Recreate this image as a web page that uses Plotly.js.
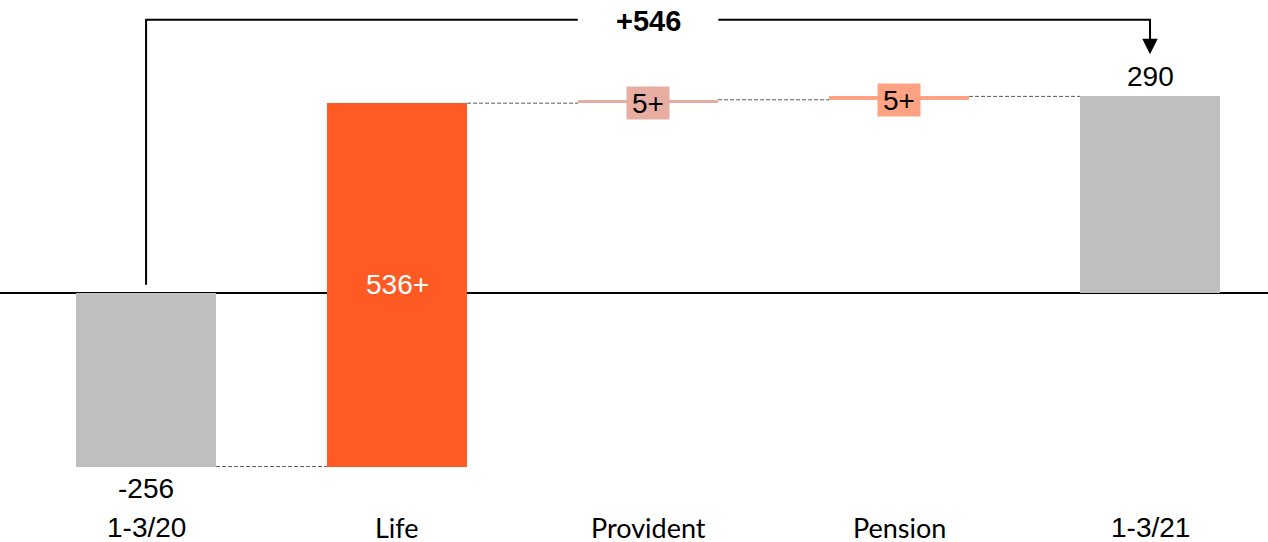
<!DOCTYPE html>
<html>
<head>
<meta charset="utf-8">
<script src="https://cdn.plot.ly/plotly-3.0.1.min.js"></script>
<style>html,body{margin:0;padding:0;background:#fff;}#chart{width:1268px;height:542px;}</style>
</head>
<body>
<div id="chart"></div>
<script>
// ---- data ----
var categories = ['1-3/20', 'Life', 'Provident', 'Pension', '1-3/21'];
var values = [-256, 536, 5, 5, 290];
var measures = ['absolute', 'relative', 'relative', 'relative', 'total'];
var valueLabels = ['-256', '536+', '5+', '5+', '290'];

// ---- styles ----
var barColors = ['#BFBFBF', '#FF5A24', '#E8ADA1', '#FFA283', '#BFBFBF'];
var catFonts = ['Liberation Sans, Arial', 'Lato', 'Lato', 'Lato', 'Liberation Sans, Arial'];
var catSizes = [28, 27, 27, 27, 28];
var BAR_W = 0.558;

// positions along the x axis come from the category order
var xpos = categories.map(function (c, i) { return i; });

// compute bases / ends
var bases = [], ends = [], running = 0;
for (var i = 0; i < values.length; i++) {
  if (measures[i] === 'absolute') { bases.push(0); running = values[i]; ends.push(running); }
  else if (measures[i] === 'total') { bases.push(0); ends.push(running); }
  else { bases.push(running); running += values[i]; ends.push(running); }
}
var heights = ends.map(function (e, i) { return e - bases[i]; });

var trace = {
  type: 'bar',
  x: xpos,
  y: heights,
  base: bases,
  width: BAR_W,
  marker: { color: barColors, line: { width: 0 } },
  hoverinfo: 'skip'
};

var shapes = [];
// connectors
for (var i = 0; i < categories.length - 1; i++) {
  var yc = ends[i];
  shapes.push({
    type: 'line', xref: 'x', yref: 'y',
    x0: xpos[i] + BAR_W / 2, x1: xpos[i + 1] - BAR_W / 2, y0: yc, y1: yc,
    line: { color: '#5a5a5a', width: 1, dash: '4px,2px' }, layer: 'below'
  });
}

// bracket
var startVal = ends[0], endVal = ends[ends.length - 1];
var diff = endVal - startVal;
var maxEnd = Math.max.apply(null, ends);
var bracketY = maxEnd + 113;
var tipY = endVal + 62;
var legBottom = 12;
var firstX = xpos[0], lastX = xpos[xpos.length - 1];
var midX = (firstX + lastX) / 2;
var gap = 0.28;
shapes.push({
  type: 'path', xref: 'x', yref: 'y',
  path: 'M ' + firstX + ',' + legBottom + ' L ' + firstX + ',' + bracketY + ' L ' + (midX - gap) + ',' + bracketY,
  line: { color: '#000000', width: 2 }
});
shapes.push({
  type: 'path', xref: 'x', yref: 'y',
  path: 'M ' + (midX + gap) + ',' + bracketY + ' L ' + lastX + ',' + bracketY + ' L ' + lastX + ',' + (tipY + 20),
  line: { color: '#000000', width: 2 }
});

var annotations = [];
// arrow down
annotations.push({
  x: lastX, y: tipY, xref: 'x', yref: 'y',
  ax: lastX, ay: bracketY, axref: 'x', ayref: 'y',
  text: ' ', showarrow: true, arrowhead: 2, arrowsize: 1.55, arrowwidth: 2, arrowcolor: '#000000',
  standoff: 0, startstandoff: 0
});
annotations.push({
  x: midX, y: bracketY, xref: 'x', yref: 'y', showarrow: false,
  text: '<b>' + (diff >= 0 ? '+' : '') + diff + '</b>',
  font: { family: 'Liberation Sans, Arial', size: 29, color: '#000' },
  yshift: -1
});

// value labels
var boxColors = [null, null, '#E8ADA1', '#FFA283', null];
for (var i = 0; i < categories.length; i++) {
  var a = { x: xpos[i], xref: 'x', yref: 'y', showarrow: false, text: valueLabels[i],
            font: { family: 'Liberation Sans, Arial', size: 28, color: '#000' } };
  if (measures[i] === 'absolute' && ends[i] < 0) {
    a.y = ends[i]; a.yanchor = 'top'; a.yshift = -4;
  } else if (measures[i] === 'total' || measures[i] === 'absolute') {
    a.y = ends[i]; a.yanchor = 'bottom'; a.yshift = 2;
  } else if (Math.abs(heights[i]) > 50) {
    a.y = bases[i] + heights[i] / 2; a.font.color = '#FFFFFF';
  } else {
    a.y = bases[i] + heights[i] / 2; a.bgcolor = boxColors[i];
    a.width = 42; a.height = 32; a.borderpad = 0; a.yshift = -1.5;
  }
  annotations.push(a);
}

// category labels
for (var i = 0; i < categories.length; i++) {
  annotations.push({
    x: xpos[i], xref: 'x', yref: 'paper', y: (542 - 527) / 542, yanchor: 'middle',
    showarrow: false, text: categories[i], height: 28, borderpad: 0,
    font: { family: catFonts[i], size: catSizes[i], color: '#000' }
  });
}

var layout = {
  width: 1268, height: 542,
  margin: { l: 0, r: 0, t: 0, b: 0 },
  paper_bgcolor: '#ffffff', plot_bgcolor: '#ffffff',
  showlegend: false,
  bargap: 0,
  xaxis: { type: 'linear', range: [-0.582, 4.47], showticklabels: false, showgrid: false,
           zeroline: false, showline: false, ticks: '', fixedrange: true },
  yaxis: { range: [-367.3, 432.2], showticklabels: false, showgrid: false,
           zeroline: true, zerolinecolor: '#000000', zerolinewidth: 2, showline: false, ticks: '', fixedrange: true },
  shapes: shapes,
  annotations: annotations
};

Plotly.newPlot('chart', [trace], layout, { displayModeBar: false, staticPlot: true });
</script>
</body>
</html>
